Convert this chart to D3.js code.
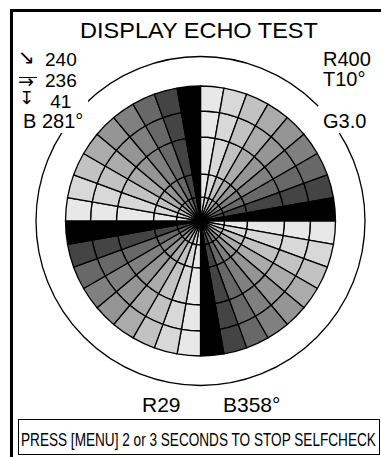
<!DOCTYPE html>
<html>
<head>
<meta charset="utf-8">
<script src="https://cdn.jsdelivr.net/npm/d3@7"></script>
<style>
  html, body { margin: 0; padding: 0; background: #fff; }
  svg { display: block; }
  text { font-family: "Liberation Sans", Arial, sans-serif; fill: #000; }
</style>
</head>
<body>
<div id="main-content"></div>
<script>
'use strict'

const width = 381,
		height = 457

// echo test pattern: 4 quadrants, each 9 sectors of 10 deg, echo level rising clockwise
const quadrantStarts = [0, 90, 180, 270]
const sectorLevels = [1, 2, 3, 4, 5, 6, 7, 8, 9]
const levelGrays = ['#e8e8e8', '#d8d8d8', '#c2c2c2', '#ababab', '#959595', '#808080', '#686868', '#444444', '#000000']
const ringRanges = [0, 24, 47, 84, 110, 135]

// readouts
const leftLabels = ['240', '236', ' 41', 'B 281°']
const rightLabels = ['R400', 'T10°', 'G3.0']
const bottomLabels = ['R29', 'B358°']
const title = 'DISPLAY ECHO TEST'
const message = 'PRESS [MENU] 2 or 3 SECONDS TO STOP SELFCHECK'

const cx = 200.5,
		cy = 221

const svg = d3.select('#main-content').append('svg')
	.attr('width', width)
	.attr('height', height)

// squeeze/stretch a text horizontally to a given width, keeping its left edge
const fitWidth = (sel, x, w) => {
	const natural = sel.node().getComputedTextLength()
	sel.attr('x', 0)
		.attr('transform', 'translate(' + x + ',0) scale(' + (w / natural) + ',1)')
}

// outer frame (runs off the right/bottom edge)
svg.append('rect')
	.attr('x', 11.5).attr('y', 10.5)
	.attr('width', 420).attr('height', 520)
	.attr('fill', 'none')
	.attr('stroke', '#000')
	.attr('stroke-width', 3)

const angle = d3.scaleLinear().domain([0, 360]).range([0, 2 * Math.PI])
const radius = d3.scaleLinear().domain([0, 135]).range([0, 135])

const cells = []
quadrantStarts.forEach((q) => {
	sectorLevels.forEach((lvl, i) => {
		for (let r = 0; r < ringRanges.length - 1; r++) {
			cells.push({
				start: q + i * 10,
				end: q + (i + 1) * 10,
				inner: ringRanges[r],
				outer: ringRanges[r + 1],
				level: lvl
			})
		}
	})
})

const color = d3.scaleOrdinal().domain(sectorLevels).range(levelGrays)

const arc = d3.arc()
	.innerRadius(function(d) { return radius(d.inner) })
	.outerRadius(function(d) { return radius(d.outer) })
	.startAngle(function(d) { return angle(d.start) })
	.endAngle(function(d) { return angle(d.end) })

const scope = svg.append('g')
	.attr('transform', 'translate(' + cx + ',' + cy + ')')

// range ring
scope.append('circle')
	.attr('r', 164.5)
	.attr('fill', 'none')
	.attr('stroke', '#000')
	.attr('stroke-width', 1.3)

scope.append('g')
	.selectAll('path')
	.data(cells)
	.enter().append('path')
		.attr('d', arc)
		.attr('fill', function(d) { return color(d.level) })
		.attr('stroke', '#000')
		.attr('stroke-width', 1.3)
		.attr('stroke-linejoin', 'round')

// white patches behind the readouts that cut the range ring
svg.append('rect').attr('x', 14).attr('y', 44).attr('width', 74).attr('height', 89).attr('fill', '#fff')
svg.append('rect').attr('x', 318).attr('y', 106).attr('width', 60).attr('height', 27).attr('fill', '#fff')

const titleText = svg.append('text')
	.attr('y', 38.5)
	.attr('font-size', 22)
	.text(title)
fitWidth(titleText, 80, 238)

// left readouts with arrow icons
const leftY = [66, 87, 108, 128]
svg.append('g')
	.selectAll('text')
	.data(leftLabels)
	.enter().append('text')
		.attr('x', function(d, i) { return i === 3 ? 23 : 45 })
		.attr('y', function(d, i) { return leftY[i] })
		.attr('font-size', function(d, i) { return i === 3 ? 20 : 19 })
		.attr('xml:space', 'preserve')
		.style('white-space', 'pre')
		.text(function(d) { return d })

const arrows = ['↘', '→', '↧']
svg.append('g')
	.selectAll('text')
	.data(arrows)
	.enter().append('text')
		.attr('x', function(d, i) { return [18, 18, 19][i] })
		.attr('y', function(d, i) { return [64, 88, 104][i] })
		.attr('font-size', function(d, i) { return [20, 19, 18][i] })
		.style('font-family', '"DejaVu Sans", sans-serif')
		.text(function(d) { return d })
svg.append('line')
	.attr('x1', 19).attr('x2', 37)
	.attr('y1', 77.5).attr('y2', 77.5)
	.attr('stroke', '#000')
	.attr('stroke-width', 1)

const rightY = [66, 86, 128]
svg.append('g')
	.selectAll('text')
	.data(rightLabels)
	.enter().append('text')
		.attr('x', 323)
		.attr('y', function(d, i) { return rightY[i] })
		.attr('font-size', 20)
		.text(function(d) { return d })

const bottomX = [142, 223]
svg.append('g')
	.selectAll('text')
	.data(bottomLabels)
	.enter().append('text')
		.attr('x', function(d, i) { return bottomX[i] })
		.attr('y', 412)
		.attr('font-size', 21)
		.text(function(d) { return d })

svg.append('rect')
	.attr('x', 18.5).attr('y', 419.5)
	.attr('width', 361).attr('height', 35)
	.attr('fill', 'none')
	.attr('stroke', '#000')
	.attr('stroke-width', 1)

const msgText = svg.append('text')
	.attr('y', 446.5)
	.attr('font-size', 19)
	.text(message)
fitWidth(msgText, 21, 355)
</script>
</body>
</html>
